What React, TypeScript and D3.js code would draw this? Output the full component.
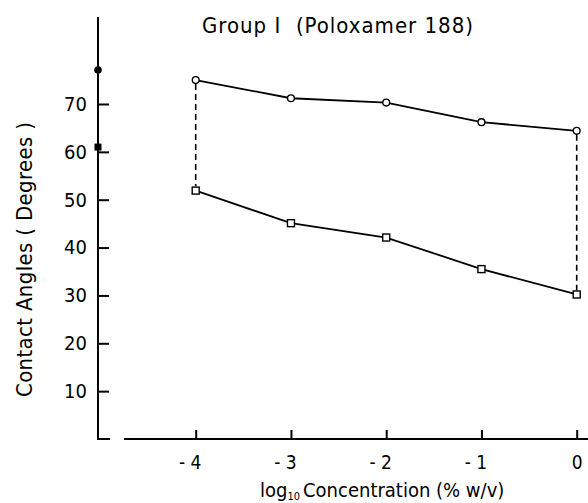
import React, { useRef, useEffect } from "react";
import * as d3 from "d3";

const concentrations = [-4, -3, -2, -1, 0];
const upperAngles = [75.0, 71.2, 70.3, 66.2, 64.4];
const lowerAngles = [51.9, 45.1, 42.1, 35.5, 30.2];
const yTicks = [10, 20, 30, 40, 50, 60, 70];
const xTickLabels = ["- 4", "- 3", "- 2", "- 1", "0"];
const axisMarkers = [
  { value: 77.1, shape: "circle" },
  { value: 61.0, shape: "square" },
];

const W = 588;
const H = 503;
const FONT = "'DejaVu Sans Condensed', 'DejaVu Sans', sans-serif";

const App = () => {
  const svgRef = useRef<SVGSVGElement>(null);

  useEffect(() => {
    const svg = d3.select(svgRef.current);
    svg.selectAll("*").remove();

    const x = d3.scaleLinear().domain([-4, 0]).range([195.7, 576.7]);
    const y = d3.scaleLinear().domain([0, 70]).range([439, 104]);
    const axisX = 98;

    // y axis
    svg
      .append("line")
      .attr("x1", axisX)
      .attr("x2", axisX)
      .attr("y1", 17)
      .attr("y2", y(0))
      .attr("stroke", "#000")
      .attr("stroke-width", 2);

    const yAxis = svg
      .append("g")
      .attr("transform", `translate(${axisX},0)`)
      .call(
        d3
          .axisLeft(y)
          .tickValues(yTicks)
          .tickSizeInner(-11)
          .tickSizeOuter(0)
          .tickPadding(11)
          .tickFormat(d3.format("d"))
      );
    yAxis.select(".domain").remove();
    yAxis.selectAll(".tick line").attr("stroke-width", 2);
    yAxis
      .selectAll(".tick text")
      .attr("font-family", FONT)
      .attr("font-size", 20)
      .attr("fill", "#000");

    // zero tick / start of x axis
    svg
      .append("line")
      .attr("x1", axisX - 1)
      .attr("x2", 110)
      .attr("y1", y(0))
      .attr("y2", y(0))
      .attr("stroke", "#000")
      .attr("stroke-width", 2);

    // x axis
    svg
      .append("line")
      .attr("x1", 124)
      .attr("x2", W)
      .attr("y1", y(0))
      .attr("y2", y(0))
      .attr("stroke", "#000")
      .attr("stroke-width", 2);

    const xAxis = svg
      .append("g")
      .attr("transform", `translate(0,${y(0)})`)
      .call(
        d3
          .axisBottom(x)
          .tickValues(concentrations)
          .tickSizeInner(-9)
          .tickSizeOuter(0)
          .tickPadding(17)
          .tickFormat((d, i) => xTickLabels[i])
      );
    xAxis.select(".domain").remove();
    xAxis.selectAll(".tick line").attr("stroke-width", 2);
    xAxis
      .selectAll(".tick text")
      .attr("font-family", FONT)
      .attr("font-size", 19)
      .attr("fill", "#000")
      .attr("dx", (d, i) => (i < 4 ? -6 : 0));

    // markers on y axis
    axisMarkers.forEach((m) => {
      if (m.shape === "circle") {
        svg
          .append("circle")
          .attr("cx", axisX)
          .attr("cy", y(m.value))
          .attr("r", 3.8)
          .attr("fill", "#000");
      } else {
        svg
          .append("rect")
          .attr("x", axisX - 3.5)
          .attr("y", y(m.value) - 3.5)
          .attr("width", 7)
          .attr("height", 7)
          .attr("fill", "#000");
      }
    });

    // dashed connectors
    [0, concentrations.length - 1].forEach((i) => {
      svg
        .append("line")
        .attr("x1", x(concentrations[i]))
        .attr("x2", x(concentrations[i]))
        .attr("y1", y(upperAngles[i]) + 4)
        .attr("y2", y(lowerAngles[i]) - 4)
        .attr("stroke", "#000")
        .attr("stroke-width", 1.6)
        .attr("stroke-dasharray", "6,4");
    });

    const line = d3
      .line<number>()
      .x((d, i) => x(concentrations[i]))
      .y((d) => y(d));

    svg
      .append("path")
      .attr("d", line(upperAngles))
      .attr("fill", "none")
      .attr("stroke", "#000")
      .attr("stroke-width", 1.8);

    svg
      .append("path")
      .attr("d", line(lowerAngles))
      .attr("fill", "none")
      .attr("stroke", "#000")
      .attr("stroke-width", 1.8);

    svg
      .selectAll(".pt-circle")
      .data(upperAngles)
      .enter()
      .append("circle")
      .attr("cx", (d, i) => x(concentrations[i]))
      .attr("cy", (d) => y(d))
      .attr("r", 3.4)
      .attr("fill", "#fff")
      .attr("stroke", "#000")
      .attr("stroke-width", 1.4);

    svg
      .selectAll(".pt-square")
      .data(lowerAngles)
      .enter()
      .append("rect")
      .attr("x", (d, i) => x(concentrations[i]) - 3.5)
      .attr("y", (d) => y(d) - 3.5)
      .attr("width", 7)
      .attr("height", 7)
      .attr("fill", "#fff")
      .attr("stroke", "#000")
      .attr("stroke-width", 1.4);

    // title
    svg
      .append("text")
      .attr("x", 202)
      .attr("y", 33)
      .attr("font-family", FONT)
      .attr("font-size", 22)
      .attr("textLength", 271)
      .attr("lengthAdjust", "spacing")
      .attr("xml:space", "preserve")
      .text("Group I  (Poloxamer 188)");

    // y label
    svg
      .append("text")
      .attr("transform", `translate(32,397) rotate(-90)`)
      .attr("font-family", FONT)
      .attr("font-size", 22)
      .attr("textLength", 275)
      .attr("lengthAdjust", "spacing")
      .text("Contact Angles ( Degrees )");

    // x label
    const xl = svg
      .append("text")
      .attr("x", 260)
      .attr("y", 497)
      .attr("font-family", FONT)
      .attr("font-size", 20);
    xl.append("tspan").text("log");
    xl.append("tspan").attr("font-size", 11).attr("dy", 3).text("10");
    xl.append("tspan")
      .attr("dy", -3)
      .attr("dx", 3)
      .text("Concentration (% w/v)");
  }, []);

  return (
    <svg
      ref={svgRef}
      width={W}
      height={H}
      style={{ position: "absolute", left: 0, top: 0, background: "#fff" }}
    />
  );
};

export default App;
